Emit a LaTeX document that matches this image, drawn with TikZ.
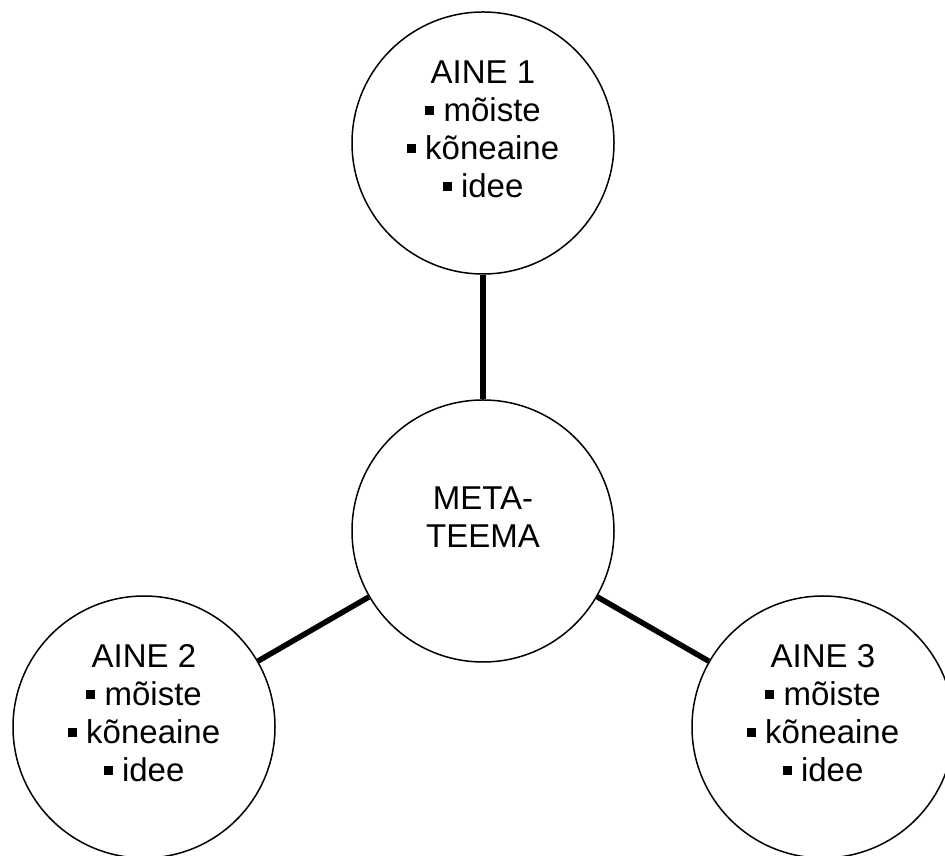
\documentclass[tikz,border=0pt]{standalone}
\usepackage{fontspec}
\setmainfont{Liberation Sans}
\usetikzlibrary{positioning}

\newcommand{\sqb}{\raisebox{0.2em}{\rule{0.28em}{0.28em}}}

\begin{document}
\begin{tikzpicture}
        [x=1pt, y=1pt,
        % every circle shares one look
        topic/.style={circle, draw=black, line width=1.5pt, minimum size=262pt,
            inner sep=0pt, align=center, text depth=28pt,
            font=\fontsize{33}{38}\selectfont},
        link/.style={draw=black, line width=5.5pt}]
        \useasboundingbox (0,0) rectangle (945,856);
        \node [topic] (meta) at (483,325) {META-\\TEEMA};
        \node [topic] (aine1) at (483,713) {AINE 1\\\sqb{} mõiste\\\sqb{} kõneaine\\\sqb{} idee};
        \node [topic] (aine2) at (144,129) {AINE 2\\\sqb{} mõiste\\\sqb{} kõneaine\\\sqb{} idee};
        \node [topic] (aine3) at (823,129) {AINE 3\\\sqb{} mõiste\\\sqb{} kõneaine\\\sqb{} idee};
        \draw [link] (meta) -- (aine1);
        \draw [link] (meta) -- (aine2);
        \draw [link] (meta) -- (aine3);
        \end{tikzpicture}
\end{document}
